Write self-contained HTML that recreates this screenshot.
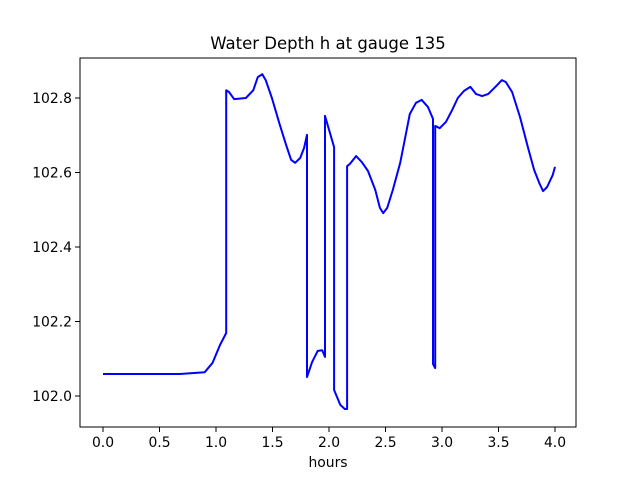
<!DOCTYPE html>
<html><head><meta charset="utf-8"><style>body{margin:0;background:#fff}svg{display:block;font-family:"DejaVu Sans","Liberation Sans",sans-serif}</style></head>
<body>
<svg id="chart" width="640" height="480">
<rect width="640" height="480" fill="#fff"/>
<text x="328" y="49" text-anchor="middle" font-size="16.5">Water Depth h at gauge 135</text>
<g id="ticks"></g>
<polyline id="line" fill="none" stroke="#0000ff" stroke-width="2" stroke-linejoin="round"/>
<rect x="80" y="58" width="496" height="369" fill="none" stroke="#000" stroke-width="1"/>
<text x="328" y="467" text-anchor="middle" font-size="13.9">hours</text>
</svg>
<script>
const hours=[0,0.68,0.90,0.97,1.035,1.09,1.09,1.115,1.16,1.265,1.33,1.37,1.41,1.44,1.495,1.565,1.62,1.665,1.70,1.745,1.78,1.805,1.805,1.85,1.90,1.94,1.965,1.965,2.045,2.045,2.10,2.14,2.16,2.16,2.185,2.24,2.29,2.345,2.41,2.45,2.48,2.515,2.565,2.63,2.67,2.715,2.77,2.82,2.875,2.92,2.92,2.94,2.94,2.98,3.035,3.09,3.14,3.195,3.25,3.30,3.355,3.41,3.48,3.53,3.565,3.62,3.69,3.76,3.815,3.865,3.895,3.93,3.98,4.0];
const depth=[102.059,102.059,102.064,102.089,102.137,102.169,102.821,102.816,102.797,102.800,102.821,102.856,102.864,102.848,102.800,102.728,102.674,102.634,102.626,102.639,102.666,102.701,102.051,102.091,102.121,102.123,102.105,102.752,102.668,102.016,101.976,101.965,101.965,102.617,102.623,102.644,102.628,102.604,102.553,102.505,102.491,102.505,102.553,102.626,102.687,102.757,102.787,102.795,102.776,102.744,102.086,102.075,102.725,102.719,102.736,102.768,102.800,102.819,102.830,102.811,102.805,102.811,102.832,102.848,102.843,102.816,102.749,102.668,102.607,102.569,102.550,102.561,102.593,102.615];
const xTicks=[0,0.5,1,1.5,2,2.5,3,3.5,4];
const xTickLabels=["0.0","0.5","1.0","1.5","2.0","2.5","3.0","3.5","4.0"];
const yTicks=[102.0,102.2,102.4,102.6,102.8];
const yTickLabels=["102.0","102.2","102.4","102.6","102.8"];
const X=h=>103+h*113;
const Y=v=>396-(v-102)*372.5;
const NS="http://www.w3.org/2000/svg";
document.getElementById('line').setAttribute('points',hours.map((h,i)=>X(h).toFixed(1)+','+Y(depth[i]).toFixed(1)).join(' '));
const g=document.getElementById('ticks');
xTicks.forEach((t,i)=>{
  const l=document.createElementNS(NS,'line');
  
  
  l.setAttribute('x1',X(t));l.setAttribute('x2',X(t));l.setAttribute('y1',427);l.setAttribute('y2',432);l.setAttribute('stroke','#000');
  g.appendChild(l);
  const tx=document.createElementNS(NS,'text');
  
  
  tx.setAttribute('x',X(t));tx.setAttribute('y',447);tx.setAttribute('text-anchor','middle');tx.setAttribute('font-size','13.9');
  tx.textContent=xTickLabels[i];g.appendChild(tx);
});
yTicks.forEach((t,i)=>{
  const l=document.createElementNS(NS,'line');
  
  
  l.setAttribute('x1',75);l.setAttribute('x2',80);l.setAttribute('y1',Y(t));l.setAttribute('y2',Y(t));l.setAttribute('stroke','#000');
  g.appendChild(l);
  const tx=document.createElementNS(NS,'text');
  
  
  tx.setAttribute('x',72);tx.setAttribute('y',Y(t)+5);tx.setAttribute('text-anchor','end');tx.setAttribute('font-size','13.9');
  tx.textContent=yTickLabels[i];g.appendChild(tx);
});
</script>
</body></html>
